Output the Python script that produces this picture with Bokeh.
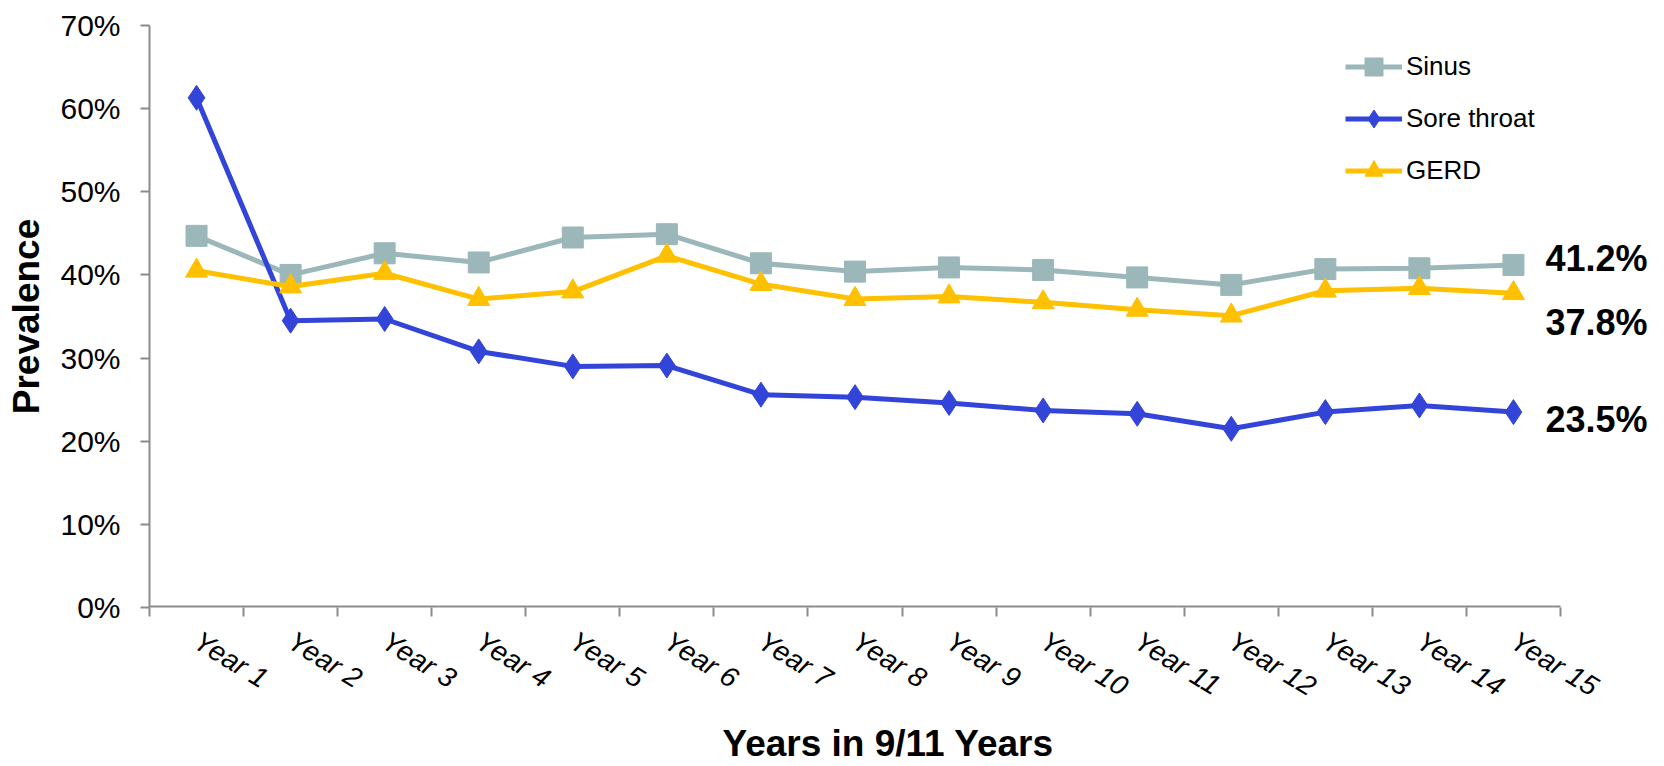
from bokeh.plotting import figure
from bokeh.models import (Range1d, FixedTicker, PrintfTickFormatter, Legend, LegendItem,
                          LabelSet, ColumnDataSource, Title)
from bokeh.core.properties import value
from bokeh.embed import file_html
from bokeh.resources import INLINE

# Prevalence (%) of each condition by year of follow-up
year_labels = ["Year 1", "Year 2", "Year 3", "Year 4", "Year 5", "Year 6", "Year 7", "Year 8",
               "Year 9", "Year 10", "Year 11", "Year 12", "Year 13", "Year 14", "Year 15"]
sinus = [44.7, 40.0, 42.6, 41.5, 44.5, 44.9, 41.4, 40.4, 40.9, 40.6, 39.7, 38.8, 40.7, 40.8, 41.2]
sore_throat = [61.3, 34.5, 34.7, 30.8, 29.0, 29.1, 25.6, 25.3, 24.6, 23.7, 23.3, 21.5, 23.5, 24.3, 23.5]
gerd = [40.5, 38.6, 40.2, 37.1, 38.0, 42.3, 38.9, 37.1, 37.4, 36.7, 35.8, 35.1, 38.1, 38.4, 37.8]
y_ticks = [0, 10, 20, 30, 40, 50, 60, 70]

SINUS_C = "#9BB7B9"
SORE_C = "#3344D9"
GERD_C = "#FFC000"
AXIS_C = "#8C8C8C"
FONT = "Liberation Sans"

x = list(range(1, len(year_labels) + 1))
n = len(year_labels)

# Frame runs from the y axis to the right edge of the page so the end labels fit;
# the visible x axis stops at the last category boundary.
W, H = 1664, 766
LEFT, AXIS_END = 149, 1560
unit = (AXIS_END - LEFT) / n
x_end = 0.5 + (W - LEFT) / unit

p = figure(width=W, height=H, output_backend="svg", toolbar_location=None,
           x_range=Range1d(0.5, x_end), y_range=Range1d(0, 70),
           min_border_left=LEFT, min_border_right=0, min_border_top=25, min_border_bottom=158)
p.outline_line_color = None
p.xgrid.visible = False
p.ygrid.visible = False
p.background_fill_color = "white"
p.border_fill_color = "white"

# x axis base line (category range only)
p.segment(x0=[0.5], y0=[0], x1=[n + 0.5], y1=[0], line_color=AXIS_C, line_width=4)

# series
l1 = p.line(x, sinus, line_color=SINUS_C, line_width=5)
m1 = p.scatter(x, sinus, marker="square", size=21, fill_color=SINUS_C, line_color=SINUS_C)
l2 = p.line(x, sore_throat, line_color=SORE_C, line_width=5)
m2 = p.scatter(x, sore_throat, marker="diamond", size=25, fill_color=SORE_C, line_color=SORE_C)
l3 = p.line(x, gerd, line_color=GERD_C, line_width=5)
m3 = p.scatter(x, gerd, marker="triangle", size=22, fill_color=GERD_C, line_color=GERD_C)

# x axis: labels at category centres, tick marks at category boundaries
xa = p.xaxis[0]
xa.ticker = FixedTicker(ticks=x, minor_ticks=[i + 0.5 for i in range(0, n + 1)])
xa.major_label_overrides = {i: lab for i, lab in zip(x, year_labels)}
xa.major_tick_out = 0
xa.major_tick_in = 0
xa.minor_tick_out = 9
xa.minor_tick_in = 0
xa.minor_tick_line_color = AXIS_C
xa.minor_tick_line_width = 2
xa.axis_line_color = None
xa.major_label_orientation = -0.55
xa.major_label_text_font = FONT
xa.major_label_text_font_size = "28px"
xa.major_label_text_font_style = "italic"
xa.major_label_text_color = "black"
xa.major_label_standoff = 22

# y axis
ya = p.yaxis[0]
ya.ticker = FixedTicker(ticks=y_ticks)
ya.formatter = PrintfTickFormatter(format="%d%%")
ya.major_tick_out = 9
ya.major_tick_in = 0
ya.minor_tick_out = 0
ya.minor_tick_in = 0
ya.major_tick_line_color = AXIS_C
ya.major_tick_line_width = 2
ya.axis_line_color = AXIS_C
ya.axis_line_width = 2
ya.major_label_text_font = FONT
ya.major_label_text_font_size = "30px"
ya.major_label_text_color = "black"
ya.major_label_standoff = 20
ya.axis_label = "Prevalence"
ya.axis_label_text_font = FONT
ya.axis_label_text_font_size = "37px"
ya.axis_label_text_font_style = "bold"
ya.axis_label_text_color = "black"
ya.axis_label_standoff = 10

# x axis title
p.add_layout(Title(text="Years in 9/11 Years", align="left", offset=573, standoff=5,
                   vertical_align="bottom",
                   text_font=FONT, text_font_size="37px", text_font_style="bold",
                   text_color="black"), "below")

# end-of-series value labels
last_vals = [sinus[-1], gerd[-1], sore_throat[-1]]
end_src = ColumnDataSource(dict(
    x=[x[-1]] * 3,
    y=last_vals,
    text=[f"{v:.1f}%" for v in last_vals],
    dy=[6, -29, -7],
))
p.add_layout(LabelSet(x="x", y="y", text="text", y_offset="dy", x_offset=32, source=end_src,
                      text_font=value(FONT), text_font_size="36px", text_font_style="bold",
                      text_color="black", text_baseline="middle", text_align="left"))

legend = Legend(items=[LegendItem(label="Sinus", renderers=[l1, m1]),
                       LegendItem(label="Sore throat", renderers=[l2, m2]),
                       LegendItem(label="GERD", renderers=[l3, m3])],
                location=(1196, 414), orientation="vertical",
                glyph_width=57, glyph_height=45, label_height=45, spacing=7,
                label_standoff=4, padding=0, margin=0,
                border_line_color=None, background_fill_alpha=0,
                label_text_font=FONT, label_text_font_size="26px", label_text_color="black")
p.add_layout(legend)

open("out.html", "w").write(file_html(p, INLINE))
